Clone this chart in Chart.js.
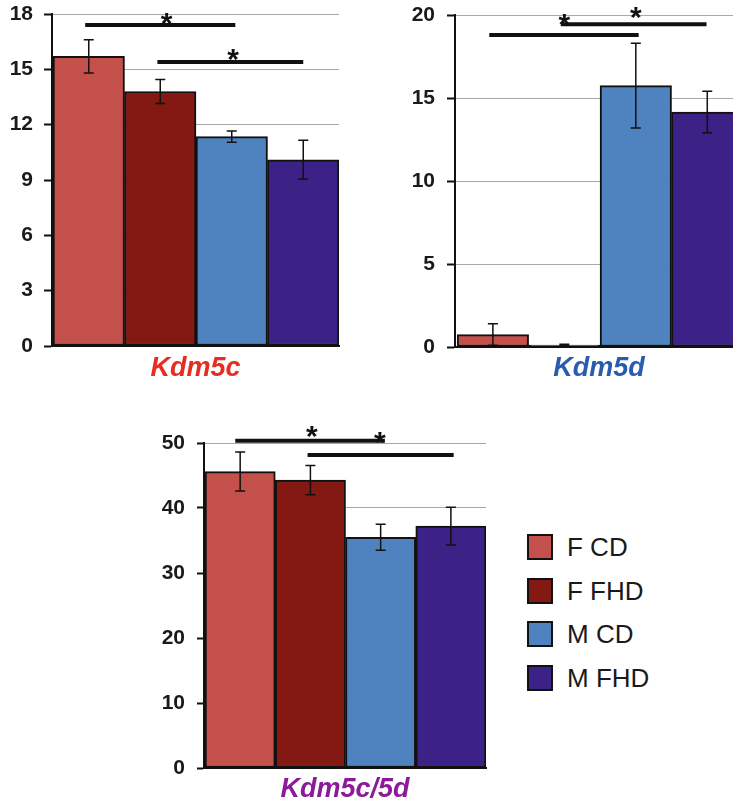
<!DOCTYPE html>
<html>
<head>
<meta charset="utf-8">
<script src="https://cdn.jsdelivr.net/npm/chart.js@4.4.0/dist/chart.umd.min.js"></script>
<style>
    html, body { margin: 0; padding: 0; background: #fff; width: 733px; height: 805px; overflow: hidden; position: relative; }
    canvas { position: absolute; }
    .legend-item { position: absolute; left: 527px; height: 26px; font: 26px "Liberation Sans", Arial, sans-serif; color: #1a1a1a; white-space: nowrap; }
    .legend-box { position: absolute; left: 0; top: 0; width: 26px; height: 26px; box-sizing: border-box; border: 2px solid #111; }
    .legend-text { position: absolute; left: 40px; top: -2px; line-height: 30px; }
</style>
</head>
<body>
<canvas id="kdm5c" width="360" height="385" style="left:0px;top:0px"></canvas>
<canvas id="kdm5d" width="343" height="385" style="left:400px;top:0px"></canvas>
<canvas id="ratio" width="350" height="406" style="left:150px;top:400px"></canvas>
<div id="legend"></div>
<script>
"use strict";

var groups = ['F CD', 'F FHD', 'M CD', 'M FHD'];
var groupColors = ['#c4504c', '#831912', '#4f83bf', '#3c2187'];

var kdm5cValues = [15.7, 13.8, 11.35, 10.1];
var kdm5cErrors = [0.9, 0.65, 0.3, 1.05];
var kdm5cTicks = [0, 3, 6, 9, 12, 15, 18];

var kdm5dValues = [0.75, 0.12, 15.75, 14.15];
var kdm5dErrors = [0.65, 0.05, 2.55, 1.25];
var kdm5dTicks = [0, 5, 10, 15, 20];

var ratioValues = [45.6, 44.3, 35.5, 37.2];
var ratioErrors = [3.0, 2.25, 2.0, 2.9];
var ratioTicks = [0, 10, 20, 30, 40, 50];

// significance bars: [from bar, to bar, height], stars: [bar, height]
var kdm5cSigLines = [[-0.05, 2.05, 17.4], [0.96, 3.0, 15.4]];
var kdm5cStars = [[1.09, 17.93], [2.02, 15.96]];
var kdm5dSigLines = [[-0.05, 2.04, 18.8], [0.95, 2.99, 19.45]];
var kdm5dStars = [[1.0, 19.9], [2.0, 20.3]];
var ratioSigLines = [[-0.07, 2.06, 50.35], [0.96, 3.04, 48.15]];
var ratioStars = [[1.02, 52.2], [1.99, 51.3]];

var FONT = '"Liberation Sans", Arial, sans-serif';

var errorBarPlugin = {
    id: 'errorBars',
    afterDatasetsDraw: function (chart, args, opts) {
        var ctx = chart.ctx;
        var meta = chart.getDatasetMeta(0);
        var ds = chart.data.datasets[0];
        var y = chart.scales.y;
        ctx.save();
        ctx.strokeStyle = '#111';
        ctx.lineWidth = 1.5;
        meta.data.forEach(function (bar, i) {
            var v = ds.data[i].y, e = opts.errors[i];
            var top = y.getPixelForValue(v + e);
            var bot = y.getPixelForValue(Math.max(0, v - e));
            ctx.beginPath();
            ctx.moveTo(bar.x, top); ctx.lineTo(bar.x, bot);
            ctx.moveTo(bar.x - 5, top); ctx.lineTo(bar.x + 5, top);
            ctx.moveTo(bar.x - 5, bot); ctx.lineTo(bar.x + 5, bot);
            ctx.stroke();
        });
        ctx.restore();
    }
};

var sigPlugin = {
    id: 'sigMarks',
    afterDraw: function (chart, args, opts) {
        var ctx = chart.ctx, x = chart.scales.x, y = chart.scales.y;
        ctx.save();
        ctx.strokeStyle = '#111';
        ctx.lineWidth = 4;
        opts.lines.forEach(function (l) {
            ctx.beginPath();
            ctx.moveTo(x.getPixelForValue(l[0]), y.getPixelForValue(l[2]));
            ctx.lineTo(x.getPixelForValue(l[1]), y.getPixelForValue(l[2]));
            ctx.stroke();
        });
        ctx.fillStyle = '#111';
        ctx.font = 'bold 30px ' + FONT;
        ctx.textAlign = 'center';
        ctx.textBaseline = 'alphabetic';
        opts.stars.forEach(function (s) {
            // asterisk glyph centre sits ~0.58em above the baseline
            ctx.fillText('*', x.getPixelForValue(s[0]), y.getPixelForValue(s[1]) + 0.58 * 30);
        });
        ctx.restore();
    }
};

function makePanel(id, p) {
    var ticks = p.ticks;
    return new Chart(document.getElementById(id), {
        type: 'bar',
        data: {
            datasets: [{
                data: p.values.map(function (v, i) { return { x: i, y: v }; }),
                backgroundColor: groupColors,
                borderColor: '#111',
                borderWidth: 2,
                borderSkipped: false,
                barPercentage: 1,
                categoryPercentage: 1
            }]
        },
        options: {
            responsive: false,
            animation: false,
            devicePixelRatio: 1,
            layout: { padding: p.padding },
            plugins: {
                legend: { display: false },
                tooltip: { enabled: false },
                errorBars: { errors: p.errors },
                sigMarks: { lines: p.sigLines, stars: p.stars }
            },
            scales: {
                x: {
                    type: 'linear',
                    min: p.xMin,
                    max: 3.5,
                    offset: false,
                    afterBuildTicks: function (s) {
                        s.ticks = p.values.map(function (v, i) { return { value: i }; });
                    },
                    grid: { display: false, offset: false },
                    ticks: { display: false },
                    border: { color: '#111', width: 2 },
                    title: {
                        display: true,
                        text: p.title,
                        color: p.titleColor,
                        padding: 0,
                        font: { family: FONT, size: 27, weight: 'bold', style: 'italic' }
                    },
                    afterFit: function (s) {
                        s.height = p.xHeight;
                        s.paddingLeft = 0; s.paddingRight = 0;
                    }
                },
                y: {
                    min: ticks[0],
                    max: ticks[ticks.length - 1],
                    afterBuildTicks: function (s) {
                        s.ticks = ticks.map(function (v) { return { value: v }; });
                    },
                    ticks: {
                        color: '#1a1a1a',
                        padding: p.tickPadding,
                        font: { family: FONT, size: 21, weight: 'bold' }
                    },
                    grid: {
                        color: function (c) { return c.tick && c.tick.value === 0 ? '#111' : '#a8a8a8'; },
                        lineWidth: 1,
                        tickColor: '#111',
                        tickWidth: 2,
                        tickLength: p.tickLength
                    },
                    border: { color: '#111', width: 2 },
                    afterFit: function (s) {
                        s.width = p.yWidth;
                        s.paddingTop = 0; s.paddingBottom = 0;
                    }
                }
            }
        },
        plugins: [errorBarPlugin, sigPlugin]
    });
}

makePanel('kdm5c', {
    values: kdm5cValues, errors: kdm5cErrors, ticks: kdm5cTicks,
    sigLines: kdm5cSigLines, stars: kdm5cStars,
    title: 'Kdm5c', titleColor: '#e52d22',
    padding: { top: 14, right: 21, left: 0, bottom: 0 },
    yWidth: 52, xHeight: 39, xMin: -0.514, tickLength: 8, tickPadding: 11
});

makePanel('kdm5d', {
    values: kdm5dValues, errors: kdm5dErrors, ticks: kdm5dTicks,
    sigLines: kdm5dSigLines, stars: kdm5dStars,
    title: 'Kdm5d', titleColor: '#275cb0',
    padding: { top: 15, right: 0, left: 0, bottom: 0 },
    yWidth: 55, xHeight: 38, xMin: -0.53, tickLength: 8, tickPadding: 12
});

makePanel('ratio', {
    values: ratioValues, errors: ratioErrors, ticks: ratioTicks,
    sigLines: ratioSigLines, stars: ratioStars,
    title: 'Kdm5c/5d', titleColor: '#8b1b98',
    padding: { top: 43, right: 14, left: 0, bottom: 0 },
    yWidth: 54, xHeight: 38, xMin: -0.515, tickLength: 7, tickPadding: 12
});

// legend for the four groups
var legend = document.getElementById('legend');
groups.forEach(function (g, i) {
    var item = document.createElement('div');
    item.className = 'legend-item';
    item.style.top = (534 + i * 43.7) + 'px';
    item.innerHTML = '<div class="legend-box" style="background:' + groupColors[i] + '"></div>' +
        '<div class="legend-text">' + g + '</div>';
    legend.appendChild(item);
});
</script>
</body>
</html>
